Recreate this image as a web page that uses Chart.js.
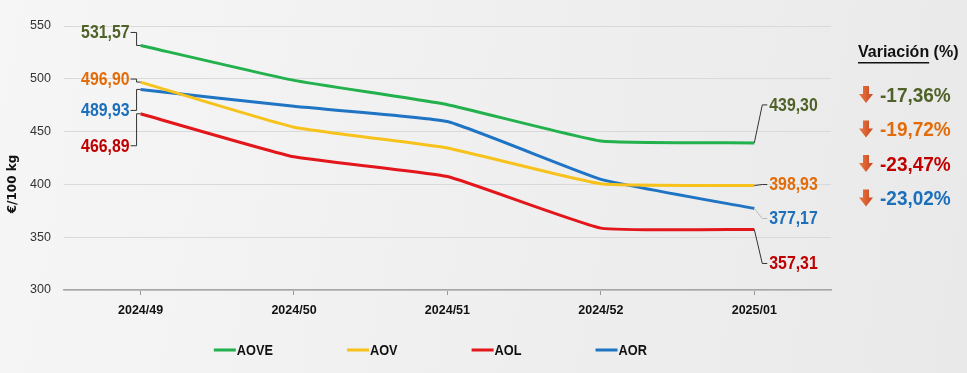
<!DOCTYPE html>
<html lang="es">
<head>
    <meta charset="UTF-8">
    <title>Precios aceite de oliva</title>
    <script src="https://cdn.jsdelivr.net/npm/chart.js"></script>
    <style>
        html, body {
            margin: 0;
            padding: 0;
        }
        body {
            width: 967px;
            height: 373px;
            overflow: hidden;
            background: linear-gradient(100deg, #f6f6f6 0%, #f0f0f0 45%, #e9e9e9 100%);
        }
        .chart-box {
            position: relative;
            width: 967px;
            height: 373px;
        }
    </style>
</head>
<body>
    <div class="chart-box">
        <canvas id="priceChart"></canvas>
    </div>

    <script>
        // datos
        const weeks = ['2024/49', '2024/50', '2024/51', '2024/52', '2025/01'];
        const aove = [531.57, 498.5, 475.5, 441.1, 439.30];
        const aov = [496.90, 454.2, 434.5, 400.6, 398.93];
        const aol = [466.89, 426.1, 407.4, 358.6, 357.31];
        const aor = [489.93, 473.9, 459.5, 404.8, 377.17];
        const variation = [-17.36, -19.72, -23.47, -23.02];
        const yTicks = [300, 350, 400, 450, 500, 550];

        const FONT = "'Liberation Sans', Arial, sans-serif";

        const series = [
            { label: 'AOVE', data: aove, line: '#22b14c', text: '#4f6228', dyFirst: -13, dyLast: -38 },
            { label: 'AOV', data: aov, line: '#f7c21c', text: '#e36c0a', dyFirst: -3, dyLast: -1 },
            { label: 'AOL', data: aol, line: '#e3161b', text: '#c00000', dyFirst: 32, dyLast: 34 },
            { label: 'AOR', data: aor, line: '#1f74c4', text: '#1b6fbb', dyFirst: 21, dyLast: 10 }
        ];

        function fmt(v) {
            return v.toFixed(2).replace('.', ',');
        }

        // texto estrecho (parecido a Calibri)
        function narrowText(ctx, txt, x, y, align, sx) {
            ctx.save();
            ctx.translate(x, y);
            ctx.scale(sx, 1);
            ctx.textAlign = align;
            ctx.fillText(txt, 0, 0);
            ctx.restore();
            return ctx.measureText(txt).width * sx;
        }

        function drawArrow(ctx, cx, cy) {
            ctx.save();
            const g = ctx.createLinearGradient(cx - 7, 0, cx + 7, 0);
            g.addColorStop(0, '#ec7a45');
            g.addColorStop(1, '#c9461c');
            ctx.fillStyle = g;
            ctx.beginPath();
            ctx.moveTo(cx - 3, cy - 9);
            ctx.lineTo(cx + 3, cy - 9);
            ctx.lineTo(cx + 3, cy - 1);
            ctx.lineTo(cx + 7, cy - 1);
            ctx.lineTo(cx, cy + 8);
            ctx.lineTo(cx - 7, cy - 1);
            ctx.lineTo(cx - 3, cy - 1);
            ctx.closePath();
            ctx.fill();
            ctx.restore();
        }

        // etiquetas con líneas guía, leyenda, título del eje y panel de variación
        const labelPlugin = {
            id: 'labelPlugin',
            afterDatasetsDraw(chart) {
                const ctx = chart.ctx;
                const area = chart.chartArea;
                ctx.save();
                ctx.textBaseline = 'middle';

                // título eje Y
                ctx.save();
                ctx.translate(13, (area.top + area.bottom) / 2 + 26);
                ctx.rotate(-Math.PI / 2);
                ctx.fillStyle = '#111';
                ctx.font = "bold 12px 'DejaVu Sans'";
                ctx.textAlign = 'center';
                ctx.fillText('€/100 kg', 0, 0);
                ctx.restore();

                ctx.font = 'bold 18px ' + FONT;
                series.forEach((s, i) => {
                    const pts = chart.getDatasetMeta(i).data;
                    const first = pts[0];
                    const last = pts[pts.length - 1];

                    // primera semana, a la izquierda
                    let ly = first.y + s.dyFirst;
                    ctx.strokeStyle = '#333';
                    ctx.lineWidth = 1;
                    ctx.beginPath();
                    ctx.moveTo(first.x - 10, ly);
                    ctx.lineTo(first.x - 4, ly);
                    ctx.lineTo(first.x - 4, first.y);
                    ctx.lineTo(first.x, first.y);
                    ctx.stroke();
                    ctx.fillStyle = s.text;
                    narrowText(ctx, fmt(s.data[0]), first.x - 11, ly + 1, 'right', 0.88);

                    // última semana, a la derecha
                    ly = last.y + s.dyLast;
                    ctx.strokeStyle = s.label === 'AOR' ? '#bbb' : '#333';
                    ctx.beginPath();
                    ctx.moveTo(last.x, last.y);
                    ctx.lineTo(last.x + 8, ly);
                    ctx.lineTo(last.x + 13, ly);
                    ctx.stroke();
                    ctx.fillStyle = s.text;
                    narrowText(ctx, fmt(s.data[s.data.length - 1]), last.x + 15, ly + 1, 'left', 0.88);
                });

                // leyenda
                ctx.font = 'bold 15px ' + FONT;
                let lx = area.left + 150;
                const legY = 350;
                chart.data.datasets.forEach(ds => {
                    ctx.strokeStyle = ds.borderColor;
                    ctx.lineWidth = 3;
                    ctx.beginPath();
                    ctx.moveTo(lx, legY);
                    ctx.lineTo(lx + 22, legY);
                    ctx.stroke();
                    ctx.fillStyle = '#111';
                    const tw = narrowText(ctx, ds.label, lx + 23, legY + 1, 'left', 0.85);
                    lx += 23 + tw + 74;
                });

                // panel de variación
                const px = area.right + 27;
                ctx.fillStyle = '#111';
                ctx.textAlign = 'left';
                ctx.font = 'bold 16px ' + FONT;
                const word = 'Variación';
                ctx.fillText(word, px, 53);
                const w = ctx.measureText(word).width;
                ctx.fillText(' (%)', px + w, 53);
                ctx.fillRect(px, 62, w, 1.5);

                ctx.font = 'bold 20px ' + FONT;
                variation.forEach((v, i) => {
                    const y = 95 + i * 34.5;
                    drawArrow(ctx, px + 8, y);
                    ctx.fillStyle = series[i].text;
                    narrowText(ctx, fmt(v) + '%', px + 22, y + 1, 'left', 0.95);
                });
                ctx.restore();
            }
        };

        new Chart(document.getElementById('priceChart'), {
            type: 'line',
            data: {
                labels: weeks,
                datasets: series.map(s => ({
                    label: s.label,
                    data: s.data,
                    borderColor: s.line,
                    backgroundColor: s.line,
                    borderWidth: 3,
                    pointRadius: 0,
                    tension: 0.12,
                    fill: false
                }))
            },
            options: {
                responsive: true,
                maintainAspectRatio: false,
                animation: false,
                layout: {
                    padding: { left: 17, right: 136, top: 26, bottom: 47 }
                },
                plugins: {
                    tooltip: { enabled: false },
                    legend: { display: false }
                },
                scales: {
                    x: {
                        offset: true,
                        grid: {
                            drawOnChartArea: false,
                            drawTicks: true,
                            tickLength: 5,
                            color: '#999'
                        },
                        border: { color: '#a6a6a6', width: 1.5 },
                        ticks: {
                            padding: 8,
                            color: '#111',
                            font: { family: FONT, size: 12.5, weight: 'bold' }
                        }
                    },
                    y: {
                        min: 300,
                        max: 550,
                        afterBuildTicks: axis => {
                            axis.ticks = yTicks.map(v => ({ value: v }));
                        },
                        grid: {
                            drawTicks: false,
                            color: '#d9d9d9'
                        },
                        border: { display: false },
                        ticks: {
                            padding: 13,
                            color: '#333',
                            font: { family: FONT, size: 12.5 }
                        }
                    }
                }
            },
            plugins: [labelPlugin]
        });
    </script>
</body>
</html>
